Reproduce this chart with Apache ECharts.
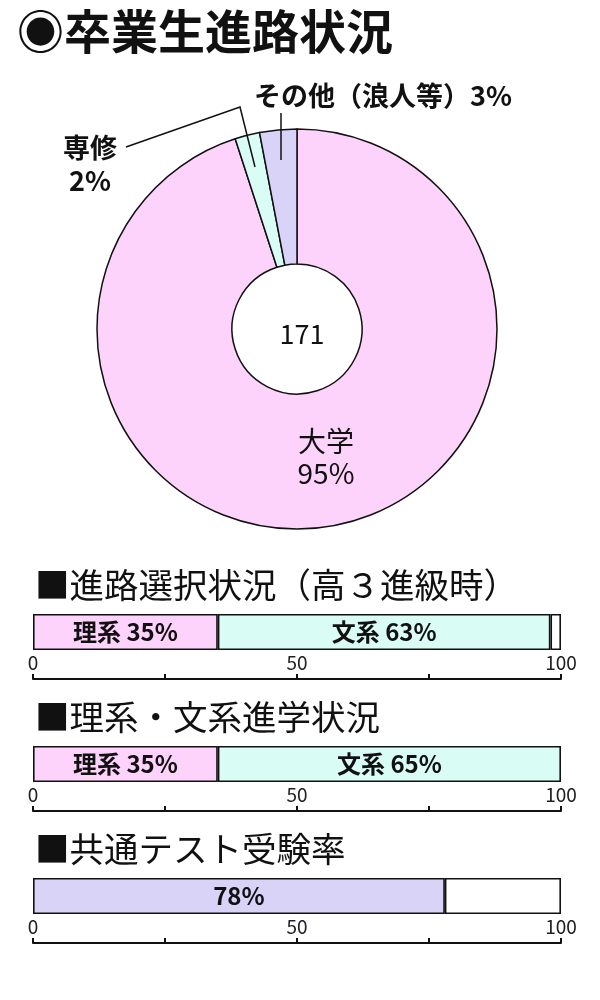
<!DOCTYPE html>
<html>
<head>
<meta charset="utf-8">
<script src="https://cdn.jsdelivr.net/npm/echarts@6/dist/echarts.min.js"></script>
<style>
html,body{margin:0;padding:0;background:#fff;}
#chart{width:600px;height:1000px;}
</style>
</head>
<body>
<div id="chart"></div>
<script>
// ---- data ----
const mainTitle = '◉卒業生進路状況';
const pieCategories = ['大学', '専修', 'その他（浪人等）'];
const pieValues = [95, 2, 3];
const graduatesTotal = 171;

const barTitles = ['■進路選択状況（高３進級時）', '■理系・文系進学状況', '■共通テスト受験率'];
const choiceCategories = ['理系', '文系', ''];
const choiceValues = [35, 63, 2];
const shingakuCategories = ['理系', '文系'];
const shingakuValues = [35, 65];
const kyotsuCategories = ['', ''];
const kyotsuValues = [78, 22];
const axisLabelValues = [0, 50, 100];

// ---- styles ----
const FONT = '"Noto Sans CJK JP", "Noto Sans", sans-serif';
const PINK = '#fed3fb';
const CYAN = '#d9fcf5';
const LAV = '#dad3f8';
const WHITE = '#ffffff';
const INK = '#111111';

const chart = echarts.init(document.getElementById('chart'), null, {renderer: 'canvas'});

const gridTops = [614, 746, 878];
const barSets = [
  {cats: choiceCategories, vals: choiceValues, colors: [PINK, CYAN, WHITE]},
  {cats: shingakuCategories, vals: shingakuValues, colors: [PINK, CYAN]},
  {cats: kyotsuCategories, vals: kyotsuValues, colors: [LAV, WHITE]}
];

const grids = [], xAxes = [], yAxes = [], series = [];
const titles = [
  {text: mainTitle, left: 12, top: 3, textStyle: {fontFamily: FONT, fontSize: 47, fontWeight: 'bold', color: INK}},
  {text: String(graduatesTotal), left: 297, top: 329, textAlign: 'center', textVerticalAlign: 'middle',
   textStyle: {fontFamily: FONT, fontSize: 27, fontWeight: 'normal', color: INK}}
];

barSets.forEach((set, g) => {
  titles.push({text: barTitles[g], left: 30, top: gridTops[g] - 51,
    textStyle: {fontFamily: FONT, fontSize: 34.5, fontWeight: 'normal', color: INK}});
  grids.push({left: 33, right: 39, top: gridTops[g], height: 36, containLabel: false});
  xAxes.push({
    gridIndex: g, type: 'value', min: 0, max: 100, interval: 25, position: 'bottom', offset: 29,
    axisLine: {show: true, lineStyle: {color: INK, width: 2}},
    axisTick: {show: true, inside: true, length: 5, lineStyle: {color: INK, width: 2}},
    axisLabel: {show: true, inside: true, margin: 7, showMinLabel: true, showMaxLabel: true,
      fontFamily: FONT, fontSize: 19, color: '#222',
      formatter: v => axisLabelValues.includes(v) ? String(v) : ''},
    splitLine: {show: false}
  });
  yAxes.push({gridIndex: g, type: 'category', data: ['x'], show: false});
  set.vals.forEach((v, k) => {
    series.push({
      type: 'bar', xAxisIndex: g, yAxisIndex: g, stack: 'bar' + g,
      name: set.cats[k], barWidth: '100%',
      data: [v],
      itemStyle: {color: set.colors[k], borderColor: INK, borderWidth: 1.6},
      label: {
        show: set.colors[k] !== WHITE, position: 'inside',
        fontFamily: FONT, fontSize: 24, fontWeight: 'bold', color: INK,
        formatter: p => (set.cats[k] ? set.cats[k] + ' ' : '') + p.value + '%'
      },
      silent: true, animation: false
    });
  });
});

const pieColors = [PINK, CYAN, LAV];
const pieLabelFormatter = p => p.dataIndex === 2 ? p.name + p.value + '%' : p.name + '\n' + p.value + '%';
const pieLayout = function (params) {
  const i = params.dataIndex;
  if (i === 0) return {x: 326, y: 457, align: 'center', verticalAlign: 'middle'};
  if (i === 1) return {x: 90, y: 164, align: 'center', verticalAlign: 'middle',
    labelLinePoints: [[255, 167], [240, 107], [126, 147]]};
  return {x: 383, y: 96, align: 'center', verticalAlign: 'middle',
    labelLinePoints: [[281, 160], [281, 137], [281, 113]]};
};

// filled donut
series.push({
  type: 'pie', z: 2, center: [297, 329], radius: [65, 200],
  startAngle: 90, clockwise: true, animation: false, silent: true,
  itemStyle: {borderColor: INK, borderWidth: 1.5},
  label: {show: false},
  labelLine: {show: false},
  data: pieCategories.map((c, i) => ({name: c, value: pieValues[i], itemStyle: {color: pieColors[i]}}))
});

// transparent overlay carrying labels and leader lines above the fills
series.push({
  type: 'pie', z: 5, center: [297, 329], radius: [65, 200],
  startAngle: 90, clockwise: true, animation: false, silent: true,
  itemStyle: {color: 'rgba(0,0,0,0)', borderWidth: 0},
  label: {show: true, position: 'outside', fontFamily: FONT, fontSize: 27, fontWeight: 'bold',
    color: INK, lineHeight: 33, align: 'center', formatter: pieLabelFormatter},
  labelLine: {show: true, lineStyle: {color: INK, width: 1.5}},
  data: pieCategories.map((c, i) => ({
    name: c, value: pieValues[i],
    label: i === 0 ? {position: 'inside', fontWeight: 'normal', fontSize: 28, lineHeight: 32}
         : (i === 2 ? {width: 340} : {width: 120}),
    labelLine: i === 0 ? {show: false} : {}
  })),
  labelLayout: pieLayout
});

chart.setOption({
  backgroundColor: '#fff',
  animation: false,
  title: titles,
  grid: grids,
  xAxis: xAxes,
  yAxis: yAxes,
  series: series
});
</script>
</body>
</html>
